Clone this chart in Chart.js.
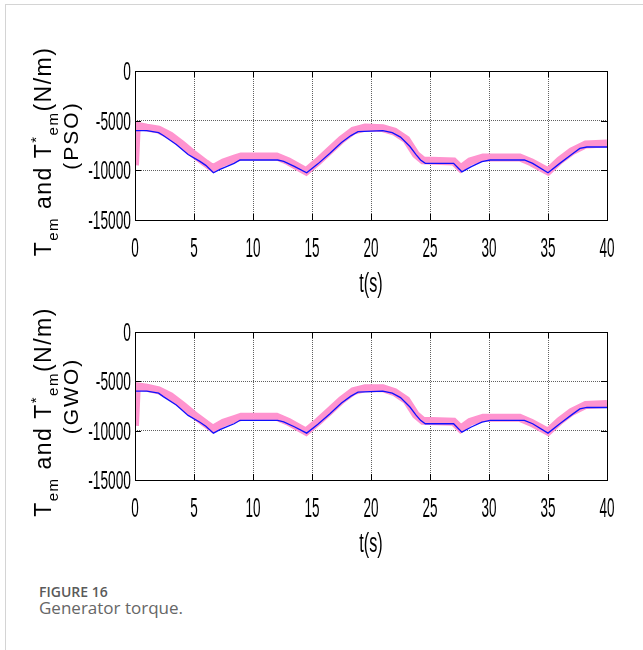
<!DOCTYPE html>
<html>
<head>
<meta charset="utf-8">
<script src="https://cdn.jsdelivr.net/npm/chart.js@4.4.1/dist/chart.umd.min.js"></script>
<style>
  html, body { margin: 0; padding: 0; background: #fff; }
  #page { position: relative; width: 643px; height: 650px; overflow: hidden; }
  #frame { position: absolute; left: 5px; top: 4px; width: 660px; height: 660px;
           border-left: 1px solid #d4d4d4; border-top: 1px solid #d4d4d4; }
  canvas { position: absolute; left: 0; }
  #pso { top: 0; }
  #gwo { top: 280px; }
  .cap { position: absolute; left: 39px; font-family: 'Open Sans', sans-serif; white-space: nowrap; }
  #capNum { top: 585px; font-size: 14px; line-height: 14px; font-weight: 600; color: #5a5a5a; }
  #capTxt { top: 599px; font-size: 17px; line-height: 17px; font-weight: 400; color: #666; }
</style>
</head>
<body>
<div id="page">
  <div id="frame"></div>
  <canvas id="pso" width="643" height="310"></canvas>
  <canvas id="gwo" width="643" height="290"></canvas>
  <div class="cap" id="capNum">FIGURE 16</div>
  <div class="cap" id="capTxt">Generator torque.</div>
</div>
<script>
// ── Data ──────────────────────────────────────────────────────────────────────
const xTicks = [0, 5, 10, 15, 20, 25, 30, 35, 40];
const yTicks = [0, -5000, -10000, -15000];

// PSO – measured torque T_em (blue)
const timePso   = [0, 1.0, 2.0, 2.4, 3.5, 4.5, 5.5, 6.0, 6.65, 7.2, 7.8, 8.4, 8.9, 12.1, 12.6, 13.5, 14.55, 15.5, 16.5, 17.5, 18.3, 18.9, 21.0, 21.8, 22.5, 23.3, 23.8, 24.2, 24.6, 27.0, 27.7, 28.5, 29.4, 30.1, 33.0, 33.7, 35.0, 36.0, 37.0, 37.7, 38.3, 40];
const torquePso = [-6000, -6000, -6200, -6500, -7400, -8400, -9100, -9500, -10250, -9900, -9600, -9300, -8960, -8960, -9100, -9600, -10250, -9350, -8300, -7200, -6500, -6100, -6000, -6200, -6650, -7600, -8400, -8960, -9300, -9300, -10150, -9630, -9130, -8960, -8960, -9300, -10250, -9300, -8400, -7800, -7650, -7650];
// PSO – reference torque T*_em (pink)
const timeRefPso   = [0, 0.15, 1.0, 2.0, 3.0, 4.0, 5.0, 6.0, 6.6, 7.5, 8.5, 9.0, 12.0, 13.0, 14.5, 15.5, 16.5, 17.5, 18.5, 19.5, 21.0, 22.0, 23.0, 23.8, 24.4, 27.0, 27.6, 28.4, 29.5, 32.6, 33.6, 35.0, 36.0, 37.0, 38.2, 40];
const torqueRefPso = [-9500, -5500, -5700, -5900, -6500, -7400, -8400, -9300, -9800, -9200, -8800, -8600, -8600, -9100, -10100, -9100, -8000, -6900, -6000, -5700, -5750, -6100, -6900, -8400, -9000, -9100, -9800, -9100, -8700, -8700, -9200, -10100, -9000, -8100, -7400, -7300];

// GWO – measured torque T_em (blue)
const timeGwo   = [0, 1.0, 2.0, 2.4, 3.5, 4.5, 5.5, 6.0, 6.65, 7.2, 7.8, 8.4, 8.9, 12.1, 12.6, 13.5, 14.55, 15.5, 16.5, 17.5, 18.3, 18.9, 21.0, 21.8, 22.5, 23.3, 23.8, 24.2, 24.6, 27.0, 27.7, 28.5, 29.4, 30.1, 33.0, 33.7, 35.0, 36.0, 37.0, 37.7, 38.3, 40];
const torqueGwo = [-6000, -6000, -6200, -6550, -7400, -8450, -9150, -9550, -10250, -9900, -9600, -9300, -8950, -8950, -9100, -9600, -10250, -9350, -8300, -7200, -6500, -6100, -6000, -6200, -6650, -7600, -8400, -8950, -9300, -9300, -10150, -9630, -9130, -8950, -8950, -9300, -10250, -9300, -8400, -7800, -7650, -7650];
// GWO – reference torque T*_em (pink)
const timeRefGwo   = [0, 0.15, 1.0, 2.0, 3.0, 4.0, 5.0, 6.0, 6.6, 7.5, 8.5, 9.0, 12.0, 13.0, 14.5, 15.5, 16.5, 17.5, 18.5, 19.5, 21.0, 22.0, 23.0, 23.8, 24.4, 27.0, 27.6, 28.4, 29.5, 32.6, 33.6, 35.0, 36.0, 37.0, 38.2, 40];
const torqueRefGwo = [-9500, -5500, -5650, -5900, -6500, -7400, -8400, -9300, -9800, -9200, -8800, -8600, -8600, -9100, -10100, -9100, -8000, -6900, -6000, -5700, -5700, -6100, -6900, -8400, -9000, -9100, -9800, -9100, -8700, -8700, -9200, -10100, -9000, -8100, -7400, -7300];

// ── Helpers ──────────────────────────────────────────────────────────────────
const zip = (xs, ys) => xs.map((x, i) => ({ x, y: ys[i] }));

// Matlab-like narrow tall tick text
function narrowText(ctx, txt, x, y, size, sx, align) {
  ctx.save();
  ctx.translate(x, y);
  ctx.scale(sx, 1);
  ctx.font = size + 'px "Liberation Sans", Arial, sans-serif';
  ctx.textAlign = align;
  ctx.textBaseline = 'alphabetic';
  ctx.fillStyle = '#000';
  ctx.fillText(txt, 0, 0);
  ctx.restore();
}

// rotated y title with sub/superscripts
function drawYTitle(ctx, method, cx1, cx2, cy1, cy2) {
  const big = 23, small = 15;
  const parts = [
    ['T', big, 0], ['em', small, 7], [' and ', big, 0], ['T', big, 0],
    ['*', small, -10], ['em', small, 7], ['(N/m)', big, 0]
  ];
  ctx.save();
  ctx.fillStyle = '#000';
  ctx.letterSpacing = '1.5px';
  ctx.textBaseline = 'alphabetic';
  ctx.textAlign = 'left';
  let total = 0;
  parts.forEach(p => { ctx.font = p[1] + 'px "Liberation Sans", Arial, sans-serif'; p.w = ctx.measureText(p[0]).width; total += p.w; });
  ctx.translate(cx1, cy1);
  ctx.rotate(-Math.PI / 2);
  let x = -total / 2;
  parts.forEach(p => {
    ctx.font = p[1] + 'px "Liberation Sans", Arial, sans-serif';
    ctx.fillText(p[0], x, p[2]);
    x += p.w;
  });
  ctx.restore();

  ctx.save();
  ctx.fillStyle = '#000';
  ctx.letterSpacing = '2px';
  ctx.font = '21px "Liberation Sans", Arial, sans-serif';
  ctx.textAlign = 'center';
  ctx.textBaseline = 'alphabetic';
  ctx.translate(cx2, cy2);
  ctx.rotate(-Math.PI / 2);
  ctx.fillText('(' + method + ')', 0, 0);
  ctx.restore();
}

const matlabAxes = {
  id: 'matlabAxes',
  afterDraw(chart, args, opts) {
    const { ctx, chartArea: a, scales: { x, y } } = chart;
    ctx.save();
    // box
    ctx.strokeStyle = '#000';
    ctx.lineWidth = 1;
    ctx.strokeRect(Math.round(a.left) + 0.5, Math.round(a.top) + 0.5, Math.round(a.right - a.left), Math.round(a.bottom - a.top));
    // inward ticks
    ctx.beginPath();
    xTicks.forEach(v => {
      const px = Math.round(x.getPixelForValue(v)) + 0.5;
      ctx.moveTo(px, a.bottom); ctx.lineTo(px, a.bottom - 6);
      ctx.moveTo(px, a.top); ctx.lineTo(px, a.top + 6);
    });
    yTicks.forEach(v => {
      const py = Math.round(y.getPixelForValue(v)) + 0.5;
      ctx.moveTo(a.left, py); ctx.lineTo(a.left + 6, py);
      ctx.moveTo(a.right, py); ctx.lineTo(a.right - 6, py);
    });
    ctx.stroke();
    ctx.restore();

    // tick labels
    xTicks.forEach(v => narrowText(ctx, String(v), x.getPixelForValue(v), a.bottom + 36.5, 27, 0.5, 'center'));
    yTicks.forEach(v => narrowText(ctx, String(v), a.left - 4, y.getPixelForValue(v) + 9, 25, 0.55, 'right'));
    // x title
    narrowText(ctx, 't(s)', (a.left + a.right) / 2, a.bottom + 72, 27, 0.6, 'center');
    // y title
    const mid = (a.top + a.bottom) / 2;
    drawYTitle(ctx, opts.method, 51, 78, mid + 6, mid - 10);
  }
};

function makeChart(id, tBlue, vBlue, tPink, vPink, method, padTop, padBottom) {
  return new Chart(document.getElementById(id), {
    type: 'line',
    data: {
      datasets: [
        { data: zip(tBlue, vBlue), borderColor: '#1010ff', borderWidth: 1.3, pointRadius: 0, tension: 0 },
        { data: zip(tPink, vPink), borderColor: '#ff94cf', borderWidth: 8, pointRadius: 0, tension: 0,
          borderJoinStyle: 'miter', borderCapStyle: 'butt' }
      ]
    },
    options: {
      responsive: false,
      animation: false,
      events: [],
      layout: { padding: { left: 135, right: 36, top: padTop, bottom: padBottom } },
      plugins: { legend: { display: false }, tooltip: { enabled: false }, matlabAxes: { method } },
      scales: {
        x: {
          type: 'linear', min: 0, max: 40,
          ticks: { display: false, stepSize: 5 },
          grid: { color: '#606060', lineWidth: 1, drawTicks: false },
          border: { display: false, dash: [1, 1] }
        },
        y: {
          type: 'linear', min: -15000, max: 0,
          ticks: { display: false, stepSize: 5000 },
          grid: { color: '#606060', lineWidth: 1, drawTicks: false },
          border: { display: false, dash: [1, 1] }
        }
      }
    },
    plugins: [matlabAxes]
  });
}

makeChart('pso', timePso, torquePso, timeRefPso, torqueRefPso, 'PSO', 71, 90);
makeChart('gwo', timeGwo, torqueGwo, timeRefGwo, torqueRefGwo, 'GWO', 52, 90);
</script>
</body>
</html>
